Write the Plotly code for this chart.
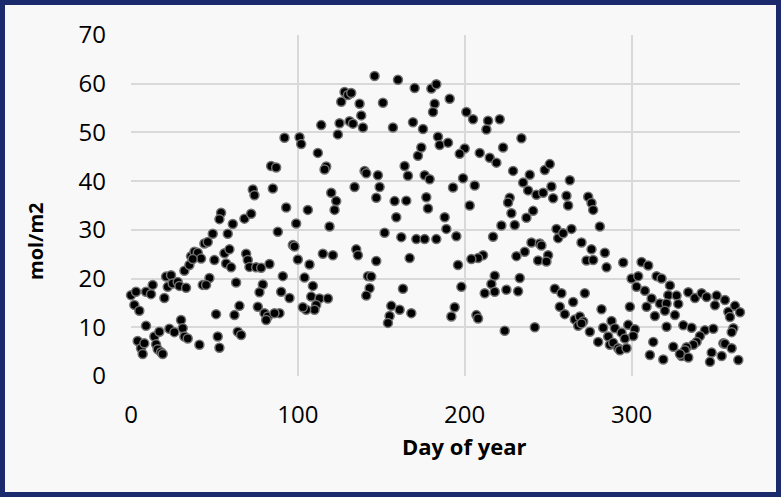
import plotly.graph_objects as go

# Day of year (x) and daily light integral mol/m2 (y)
days = [
    0, 3, 2, 5, 9, 12, 13, 20, 21, 24, 22, 25, 28, 29, 33, 32, 35, 36, 38, 40, 42, 37, 44, 46, 49, 50,
    56, 59, 57, 60, 58, 61, 68, 72, 54, 53, 73, 74, 85, 84, 87, 92, 93, 88, 69, 70, 71, 75, 78, 83, 91,
    90, 79, 77, 63, 47, 43, 45, 65, 62, 51, 76, 80, 82, 81, 89, 86, 9, 4, 6, 7, 8, 14, 15, 16, 18, 19,
    17, 23, 26, 30, 31, 32, 34, 41, 52, 53, 64, 66,
    146, 160, 170, 180, 183, 182, 181, 128, 130, 132, 126, 137, 151, 138, 114, 125, 131, 133, 139, 124,
    157, 169, 175, 184, 101, 102, 112, 117, 116, 140, 141, 148, 164, 166, 172, 174, 176, 179, 134, 149,
    147, 120, 123, 122, 158, 165, 177, 178, 159, 106, 99, 119, 152, 162, 171, 176, 183, 97, 98, 100,
    107, 115, 121, 135, 136, 147, 167, 104, 109, 95, 108, 113, 118, 111, 110, 105, 103, 142, 144, 143,
    141, 163, 156, 155, 154, 161, 168,
    191, 201, 205, 214, 213, 221, 234, 185, 190, 200, 197, 209, 215, 219, 223, 229, 239, 235, 238, 243,
    247, 248, 251, 252, 253, 263, 261, 262, 274, 276, 277, 199, 206, 193, 203, 227, 226, 228, 230, 237,
    241, 222, 217, 188, 189, 195, 255, 256, 259, 264, 270, 276, 273, 240, 245, 246, 250, 244, 249, 231,
    236, 211, 208, 204, 196, 218, 216, 212, 218, 225, 232, 233, 198, 194, 192, 207, 208, 224, 242, 254,
    258, 265, 272, 257, 260, 266, 269, 271, 268, 270, 275,
    277, 281, 284, 285, 295, 306, 310, 300, 304, 315, 318, 323, 303, 308, 322, 327, 312, 317, 321, 328,
    334, 338, 342, 345, 351, 356, 350, 358, 362, 365, 359, 299, 309, 320, 326, 314, 282, 283, 288, 290,
    294, 298, 302, 301, 280, 286, 287, 289, 292, 293, 297, 296, 313, 311, 319, 321, 331, 336, 344, 349,
    361, 360, 341, 339, 337, 333, 332, 330, 325, 329, 334, 348, 347, 354, 355, 356, 360, 364,
]

mol_m2 = [
    16.6, 17.3, 14.6, 13.4, 17.3, 16.8, 18.7, 16.0, 20.4, 20.7, 18.3, 19.0, 19.3, 18.5, 18.1, 21.6, 22.8,
    24.6, 25.5, 25.3, 24.1, 24.0, 27.2, 27.5, 29.2, 23.8, 25.2, 26.0, 23.1, 22.3, 29.2, 31.2, 32.3, 33.3,
    33.5, 32.2, 38.3, 37.1, 38.5, 43.1, 42.8, 48.9, 34.6, 29.6, 25.1, 23.8, 22.4, 22.3, 22.2, 23.0, 20.5,
    17.3, 18.8, 17.2, 19.2, 20.1, 18.7, 18.7, 14.4, 12.5, 12.7, 14.2, 12.9, 12.2, 11.5, 12.9, 12.9, 10.3,
    7.2, 5.7, 4.5, 6.7, 8.1, 6.5, 5.5, 4.9, 4.5, 9.1, 9.7, 9.0, 11.5, 9.8, 8.1, 7.7, 6.4, 8.1, 5.8, 9.1,
    8.4,
    61.6, 60.8, 59.1, 59.0, 59.9, 55.9, 54.2, 58.3, 57.7, 58.1, 56.3, 55.9, 56.1, 53.5, 51.5, 51.9, 52.3,
    51.8, 51.0, 49.6, 51.0, 52.1, 50.7, 49.1, 49.0, 47.6, 45.8, 43.0, 42.4, 42.1, 41.6, 41.2, 43.1, 41.1,
    45.2, 46.9, 41.2, 40.4, 38.8, 38.8, 36.6, 37.6, 35.9, 34.1, 35.9, 36.0, 36.7, 34.4, 32.6, 34.1, 31.3,
    30.7, 29.4, 28.5, 28.1, 28.1, 28.1, 26.9, 26.6, 23.9, 22.9, 25.1, 24.8, 26.0, 24.8, 23.6, 24.2, 20.2,
    18.5, 16.0, 16.3, 15.9, 15.9, 14.6, 13.6, 13.6, 14.1, 20.5, 20.4, 18.0, 16.5, 17.9, 14.4, 12.3, 10.9,
    13.6, 12.9,
    56.9, 54.2, 52.7, 52.4, 50.6, 52.7, 48.8, 47.4, 47.9, 46.7, 45.6, 45.8, 44.8, 43.8, 46.9, 42.1, 41.3,
    39.7, 38.1, 37.2, 37.6, 42.3, 43.5, 38.9, 36.5, 40.2, 37.0, 35.0, 36.8, 35.5, 34.1, 40.6, 39.1, 38.7,
    35.0, 36.6, 35.6, 33.4, 31.0, 32.5, 33.9, 30.9, 28.6, 32.6, 30.2, 28.7, 30.2, 28.3, 29.3, 30.2, 27.4,
    26.0, 23.7, 27.4, 27.2, 26.8, 24.8, 23.7, 23.5, 24.6, 25.5, 24.8, 24.2, 24.0, 22.8, 20.6, 18.9, 17.0,
    17.3, 17.7, 17.4, 20.1, 18.3, 14.1, 12.2, 12.5, 11.8, 9.3, 10.0, 17.9, 17.0, 15.2, 17.0, 14.2, 12.7,
    11.6, 12.2, 11.2, 10.3, 10.8, 9.1,
    23.8, 30.7, 25.3, 22.3, 23.3, 23.4, 22.7, 20.0, 20.5, 20.5, 20.0, 18.6, 18.3, 17.5, 16.6, 16.5, 15.9,
    14.9, 14.9, 14.8, 17.2, 16.0, 17.0, 16.2, 16.5, 15.6, 14.5, 13.2, 14.4, 13.1, 12.1, 14.2, 14.2, 13.4,
    12.5, 12.3, 13.7, 9.9, 11.3, 9.8, 8.9, 10.5, 9.6, 8.2, 7.0, 8.1, 6.4, 6.8, 5.7, 5.3, 5.7, 7.7, 7.0,
    4.3, 3.4, 10.1, 10.4, 9.9, 9.4, 9.7, 9.8, 9.0, 8.2, 7.0, 6.4, 5.9, 5.3, 4.1, 6.0, 4.5, 3.8, 4.8, 2.9,
    4.1, 6.7, 6.6, 5.7, 3.3,
]

x_ticks = [0, 100, 200, 300]
y_ticks = [0, 10, 20, 30, 40, 50, 60, 70]
x_title = "Day of year"
y_title = "mol/m2"

FONT = "Open Sans, DejaVu Sans, sans-serif"
TXT = "#000000"

fig = go.Figure(
    go.Scatter(
        x=days,
        y=mol_m2,
        mode="markers",
        cliponaxis=False,
        marker=dict(size=9, color="#000000", line=dict(color="#707070", width=1.5)),
        hoverinfo="x+y",
    )
)

# margins so that plot area is x 131..740, y 35..376
L, R, T, B = 131, 41, 35, 121
W, H = 781, 497
pw, ph = W - L - R, H - T - B
bw = 5  # navy border width
fig.add_shape(
    type="rect", xref="paper", yref="paper", layer="below",
    x0=(bw - L) / pw, x1=(W - bw - L) / pw,
    y0=-(H - bw - T - ph) / ph, y1=(ph + T - bw) / ph,
    fillcolor="#f8f8f8", line=dict(width=0),
)

# axis titles as annotations placed in pixel terms
fig.add_annotation(
    text="<b>" + x_title + "</b>", xref="paper", yref="paper",
    x=(464 - L) / pw, y=0, yshift=-(446 - (T + ph)), xanchor="center", yanchor="middle",
    showarrow=False, font=dict(size=22, family=FONT, color=TXT),
)
fig.add_annotation(
    text="<b>" + y_title + "</b>", xref="paper", yref="paper", textangle=-90,
    x=0, xshift=-(L - 35), y=(T + ph - 242) / ph, xanchor="center", yanchor="middle",
    showarrow=False, font=dict(size=20, family=FONT, color=TXT),
)

fig.update_layout(
    width=W, height=H,
    margin=dict(l=L, r=R, t=T, b=B, pad=0),
    paper_bgcolor="#1b2a6c",
    plot_bgcolor="rgba(0,0,0,0)",
    showlegend=False,
    font=dict(family=FONT, color=TXT, size=24),
    xaxis=dict(
        range=[0, 365], tickvals=x_ticks, ticktext=[str(v) for v in x_ticks],
        showgrid=True, gridcolor="#d9d9d9", gridwidth=1.5, zeroline=False, showline=False,
        ticks="", ticklabelstandoff=22,
        tickfont=dict(size=24, family=FONT, color=TXT),
    ),
    yaxis=dict(
        range=[0, 70], tickvals=y_ticks, ticktext=[str(v) for v in y_ticks],
        showgrid=True, gridcolor="#d9d9d9", gridwidth=1.5, zeroline=False, showline=False,
        ticks="", ticklabelstandoff=24,
        tickfont=dict(size=24, family=FONT, color=TXT),
    ),
)

fig.write_html("out.html")
